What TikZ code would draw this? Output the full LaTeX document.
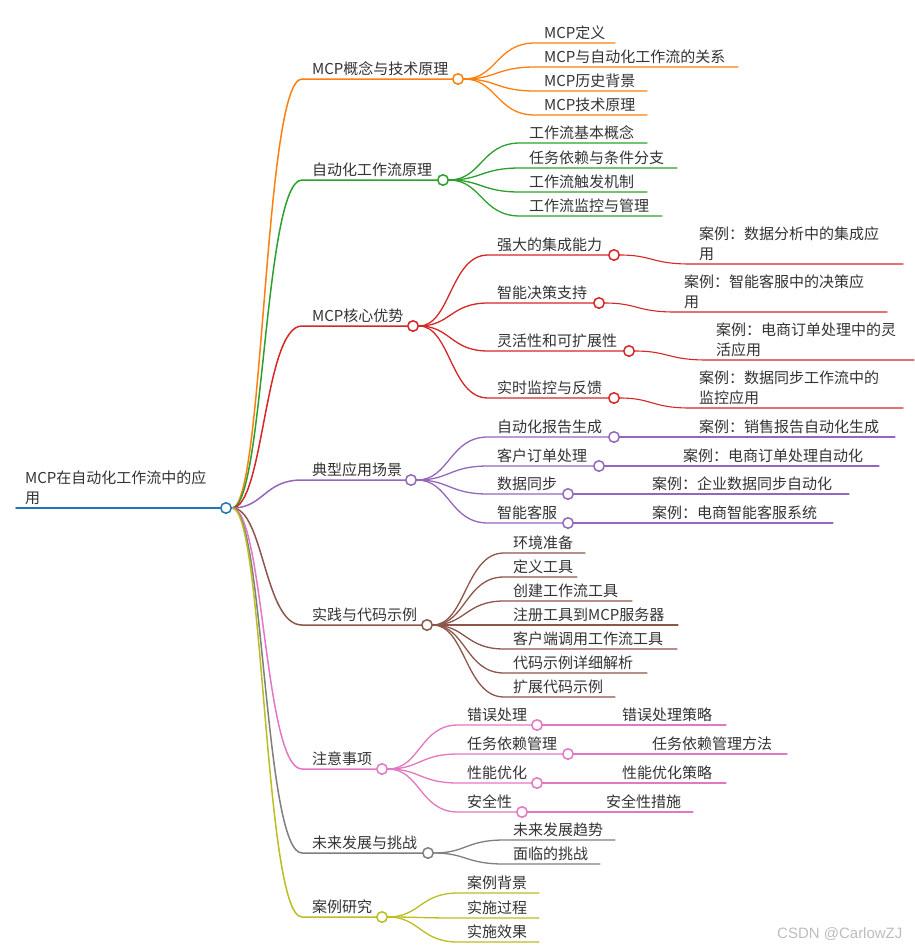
\documentclass[tikz,border=0pt]{standalone}
\usepackage{fontspec}
\setmainfont{Noto Sans CJK SC}
\newfontfamily\wmfont{Liberation Sans}
\usepackage{tikz}
\usetikzlibrary{calc, positioning, backgrounds}
\definecolor{cRoot}{HTML}{1F77B4}
\definecolor{cOr}{HTML}{FF7F0E}
\definecolor{cGr}{HTML}{2CA02C}
\definecolor{cRd}{HTML}{D62728}
\definecolor{cPu}{HTML}{9467BD}
\definecolor{cBr}{HTML}{8C564B}
\definecolor{cPk}{HTML}{E377C2}
\definecolor{cGy}{HTML}{7F7F7F}
\definecolor{cOl}{HTML}{BCBD22}
\definecolor{txtc}{HTML}{333333}
\definecolor{wmc}{HTML}{BDBDBD}

\begin{document}
\begin{tikzpicture}[x=1pt, y=-1pt, font=\fontsize{15pt}{19.5pt}\selectfont,
    dot/.style={circle, draw=#1, fill=white, line width=1.5pt, minimum size=10.5pt, inner sep=0pt},
    lbl/.style={inner sep=0pt, text depth=2pt, align=left, text=txtc},
    br/.style={draw=#1, line width=1.3pt, line cap=round},
    mlink/.style={to path={let \p1=(\tikztostart), \p2=(\tikztotarget),
        \p3=($(\tikztostart)!.5!(\tikztotarget)$) in
        .. controls (\x3,\y1) and (\x3,\y2) .. (\tikztotarget)}}]
  \useasboundingbox (0,0) rectangle (914,951);
  \begin{scope}[on background layer]
    \fill[white] (0,0) rectangle (914,951);
  \end{scope}

  % root
  \coordinate (mcpS) at (16,508);
  \node[dot=cRoot] (mcp) at (226,508) {};
  \node[lbl, above right=2.5pt and 9pt of mcpS] (mcpT) {MCP在自动化工作流中的应\\用};
  \begin{scope}[on background layer]
    \draw[br=cRoot, line width=1.8pt] (mcpS) -- (mcp);
  \end{scope}

  % main branches
  \foreach \nm/\yy/\cx/\col/\txt in {
      b1/79/458/cOr/MCP概念与技术原理,
      b2/180/443/cGr/自动化工作流原理,
      b3/326/413/cRd/MCP核心优势,
      b4/480/411/cPu/典型应用场景,
      b5/625/427/cBr/实践与代码示例,
      b6/769/382/cPk/注意事项,
      b7/853/428/cGy/未来发展与挑战,
      b8/917/382/cOl/案例研究}
  {
    \coordinate (\nm S) at (302,\yy);
    \node[dot=\col] (\nm) at (\cx,\yy) {};
    \node[lbl, above right=2.5pt and 10pt of \nm S] (\nm T) {\txt};
    \begin{scope}[on background layer]
      \draw[br=\col, line width=1.5pt] (mcp) to[mlink] (\nm S) -- (\nm);
    \end{scope}
  }

  % leaves under the branches
  \foreach \nm/\pa/\sx/\yy/\ex/\col/\txt in {
      b1a/b1/535/43/615/cOr/MCP定义,
      b1b/b1/535/67/738/cOr/MCP与自动化工作流的关系,
      b1c/b1/535/91/647/cOr/MCP历史背景,
      b1d/b1/535/115/647/cOr/MCP技术原理,
      b2a/b2/520/143/647/cGr/工作流基本概念,
      b2b/b2/520/168/677/cGr/任务依赖与条件分支,
      b2c/b2/520/192/647/cGr/工作流触发机制,
      b2d/b2/520/216/662/cGr/工作流监控与管理,
      b5a/b5/504/553/585/cBr/环境准备,
      b5b/b5/504/577/577/cBr/定义工具,
      b5c/b5/504/601/632/cBr/创建工作流工具,
      b5d/b5/504/625/678/cBr/注册工具到MCP服务器,
      b5e/b5/504/649/677/cBr/客户端调用工作流工具,
      b5f/b5/504/673/647/cBr/代码示例详细解析,
      b5g/b5/504/697/615/cBr/扩展代码示例,
      b7a/b7/504/840/615/cGy/未来发展趋势,
      b7b/b7/504/864/600/cGy/面临的挑战,
      b8a/b8/458/893/539/cOl/案例背景,
      b8b/b8/458/918/539/cOl/实施过程,
      b8c/b8/458/942/539/cOl/实施效果}
  {
    \coordinate (\nm S) at (\sx,\yy);
    \coordinate (\nm E) at (\ex,\yy);
    \node[lbl, above right=2.5pt and 9pt of \nm S] (\nm T) {\txt};
    \begin{scope}[on background layer]
      \draw[br=\col] (\pa) to[mlink] (\nm S) -- (\nm E);
    \end{scope}
  }

  % sub-branches with their own knob
  \foreach \nm/\pa/\sx/\yy/\cx/\col/\txt in {
      b3a/b3/488/255/614/cRd/强大的集成能力,
      b3b/b3/488/303/599/cRd/智能决策支持,
      b3c/b3/488/351/629/cRd/灵活性和可扩展性,
      b3d/b3/488/398/614/cRd/实时监控与反馈,
      b4a/b4/488/437/614/cPu/自动化报告生成,
      b4b/b4/488/466/599/cPu/客户订单处理,
      b4c/b4/488/494/568/cPu/数据同步,
      b4d/b4/488/523/568/cPu/智能客服,
      b6a/b6/458/725/537/cPk/错误处理,
      b6b/b6/458/754/568/cPk/任务依赖管理,
      b6c/b6/458/783/537/cPk/性能优化,
      b6d/b6/458/812/522/cPk/安全性}
  {
    \coordinate (\nm S) at (\sx,\yy);
    \node[dot=\col] (\nm) at (\cx,\yy) {};
    \node[lbl, above right=2.5pt and 9pt of \nm S] (\nm T) {\txt};
    \begin{scope}[on background layer]
      \draw[br=\col] (\pa) to[mlink] (\nm S) -- (\nm);
    \end{scope}
  }

  % examples (third level)
  \foreach \pa/\sx/\yy/\ex/\col/\txt in {
      b3a/690/264/903/cRd/案例：数据分析中的集成应\\用,
      b3b/675/312/887/cRd/案例：智能客服中的决策应\\用,
      b3c/707/360/914/cRd/案例：电商订单处理中的灵\\活应用,
      b3d/690/408/903/cRd/案例：数据同步工作流中的\\监控应用,
      b4a/690/437/895/cPu/案例：销售报告自动化生成,
      b4b/674/466/879/cPu/案例：电商订单处理自动化,
      b4c/643/494/849/cPu/案例：企业数据同步自动化,
      b4d/643/523/833/cPu/案例：电商智能客服系统,
      b6a/613/725/726/cPk/错误处理策略,
      b6b/643/754/787/cPk/任务依赖管理方法,
      b6c/613/783/726/cPk/性能优化策略,
      b6d/597/812/693/cPk/安全性措施}
  {
    \coordinate (\pa xS) at (\sx,\yy);
    \coordinate (\pa xE) at (\ex,\yy);
    \node[lbl, above right=2.5pt and 9pt of \pa xS] (\pa xT) {\txt};
    \begin{scope}[on background layer]
      \draw[br=\col, line width=1.1pt] (\pa) to[mlink] (\pa xS) -- (\pa xE);
    \end{scope}
  }

  \node[anchor=west, inner sep=0pt, text=wmc, font=\wmfont\fontsize{15pt}{18pt}\selectfont]
    (wm) at (777,934) {CSDN @CarlowZJ};
\end{tikzpicture}
\end{document}
